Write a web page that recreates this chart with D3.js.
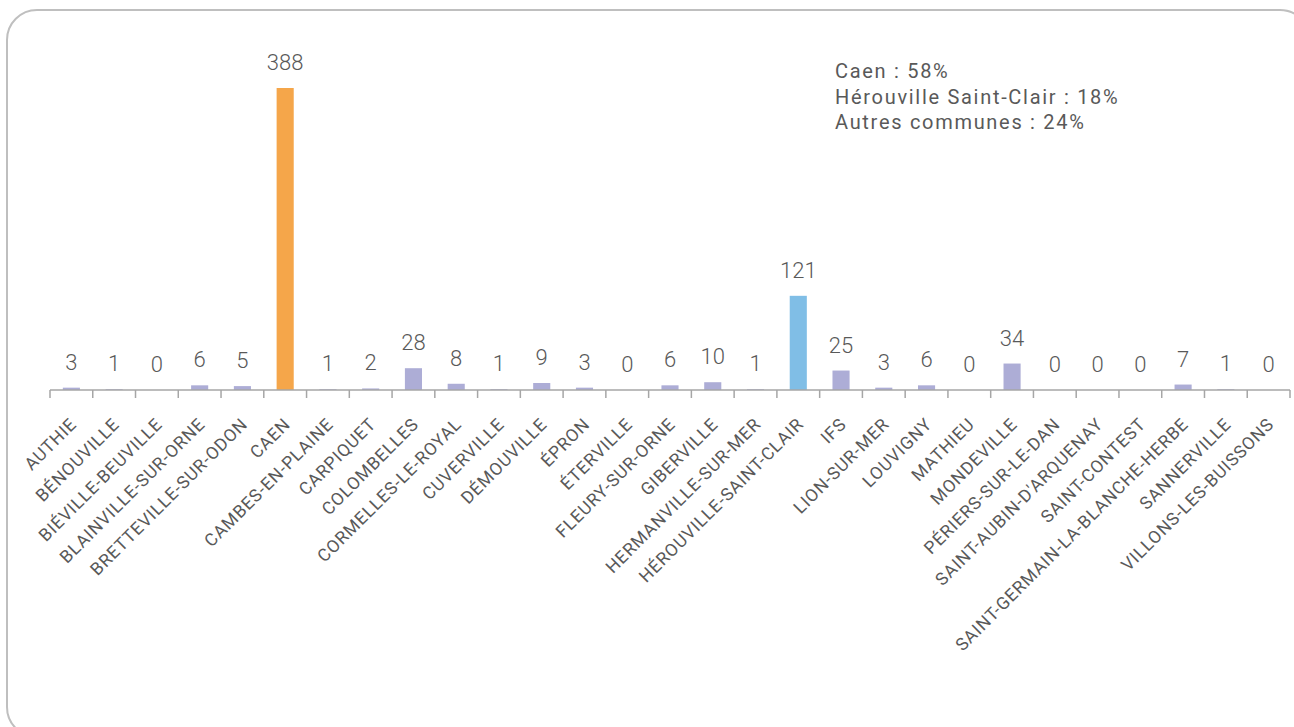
<!DOCTYPE html>
<meta charset="UTF-8">
<style>
    body { margin: 0; background: #fff; }
    svg { display: block; }
    .lbl, .val, .note { font-family: Roboto, "DejaVu Sans", sans-serif; fill: #595959; }
    .val { font-size: 22px; font-weight: 300; }
    .lbl { font-size: 17.5px; font-weight: 400; letter-spacing: 0.8px; }
    .note { font-size: 20px; font-weight: 400; letter-spacing: 1.7px; }
</style>
<body>
<div id="chart"></div>
<script src="https://d3js.org/d3.v7.min.js"></script>
<script>
    var communes = ["AUTHIE", "BÉNOUVILLE", "BIÉVILLE-BEUVILLE", "BLAINVILLE-SUR-ORNE",
        "BRETTEVILLE-SUR-ODON", "CAEN", "CAMBES-EN-PLAINE", "CARPIQUET", "COLOMBELLES",
        "CORMELLES-LE-ROYAL", "CUVERVILLE", "DÉMOUVILLE", "ÉPRON", "ÉTERVILLE",
        "FLEURY-SUR-ORNE", "GIBERVILLE", "HERMANVILLE-SUR-MER", "HÉROUVILLE-SAINT-CLAIR",
        "IFS", "LION-SUR-MER", "LOUVIGNY", "MATHIEU", "MONDEVILLE", "PÉRIERS-SUR-LE-DAN",
        "SAINT-AUBIN-D'ARQUENAY", "SAINT-CONTEST", "SAINT-GERMAIN-LA-BLANCHE-HERBE",
        "SANNERVILLE", "VILLONS-LES-BUISSONS"];
    var valeurs = [3, 1, 0, 6, 5, 388, 1, 2, 28, 8, 1, 9, 3, 0, 6, 10, 1, 121, 25, 3, 6, 0, 34, 0, 0, 0, 7, 1, 0];
    var notes = ["Caen : 58%", "Hérouville Saint-Clair : 18%", "Autres communes : 24%"];

    var W = 1294, H = 727;
    var baseY = 390, topY = 88, leftX = 50, rightX = 1290;

    var svg = d3.select("#chart").append("svg")
            .attr("width", W)
            .attr("height", H);

    // rounded frame (runs off the right and bottom edges)
    svg.append("rect")
            .attr("x", 7).attr("y", 10)
            .attr("width", 1303).attr("height", 727)
            .attr("rx", 30).attr("ry", 30)
            .attr("fill", "none")
            .attr("stroke", "#bfbfbf")
            .attr("stroke-width", 2);

    var x = d3.scaleBand().domain(communes).range([leftX, rightX]).padding(0);
    var y = d3.scaleLinear().domain([0, d3.max(valeurs)]).range([baseY, topY]);

    function colour(name) {
        if (name === "CAEN") return "#f5a64a";
        if (name === "HÉROUVILLE-SAINT-CLAIR") return "#80bee6";
        return "#adadd6";
    }

    var bw = x.bandwidth() * 0.4;

    svg.selectAll("rect.bar")
            .data(communes)
            .enter().append("rect")
            .attr("class", "bar")
            .attr("x", function (d) { return x(d) + (x.bandwidth() - bw) / 2; })
            .attr("y", function (d, i) { return y(valeurs[i]); })
            .attr("width", bw)
            .attr("height", function (d, i) { return baseY - y(valeurs[i]); })
            .attr("fill", colour);

    // value labels
    svg.selectAll("text.val")
            .data(communes)
            .enter().append("text")
            .attr("class", "val")
            .attr("x", function (d) { return x(d) + x.bandwidth() / 2; })
            .attr("y", function (d, i) { return y(valeurs[i]) - 18; })
            .attr("text-anchor", "middle")
            .text(function (d, i) { return valeurs[i]; });

    // axis line + ticks at band edges
    var edges = communes.map(function (d) { return x(d); }).concat([rightX]);
    var axis = svg.append("g").attr("stroke", "#a6a6a6").attr("stroke-width", 1.5);
    axis.append("line").attr("x1", leftX).attr("x2", rightX).attr("y1", baseY).attr("y2", baseY);
    axis.selectAll("line.tick")
            .data(edges)
            .enter().append("line")
            .attr("x1", function (d) { return d; })
            .attr("x2", function (d) { return d; })
            .attr("y1", baseY)
            .attr("y2", baseY + 8);

    // rotated category labels
    svg.selectAll("text.lbl")
            .data(communes)
            .enter().append("text")
            .attr("class", "lbl")
            .attr("transform", function (d) {
                return "translate(" + (x(d) + x.bandwidth() / 2 + 2) + "," + (baseY + 31) + ") rotate(-45)";
            })
            .attr("text-anchor", "end")
            .attr("dy", "0.35em")
            .text(function (d) { return d; });

    // share notes
    svg.selectAll("text.note")
            .data(notes)
            .enter().append("text")
            .attr("class", "note")
            .attr("x", 835)
            .attr("y", function (d, i) { return 78 + i * 25.5; })
            .text(function (d) { return d; });
</script>
</body>
